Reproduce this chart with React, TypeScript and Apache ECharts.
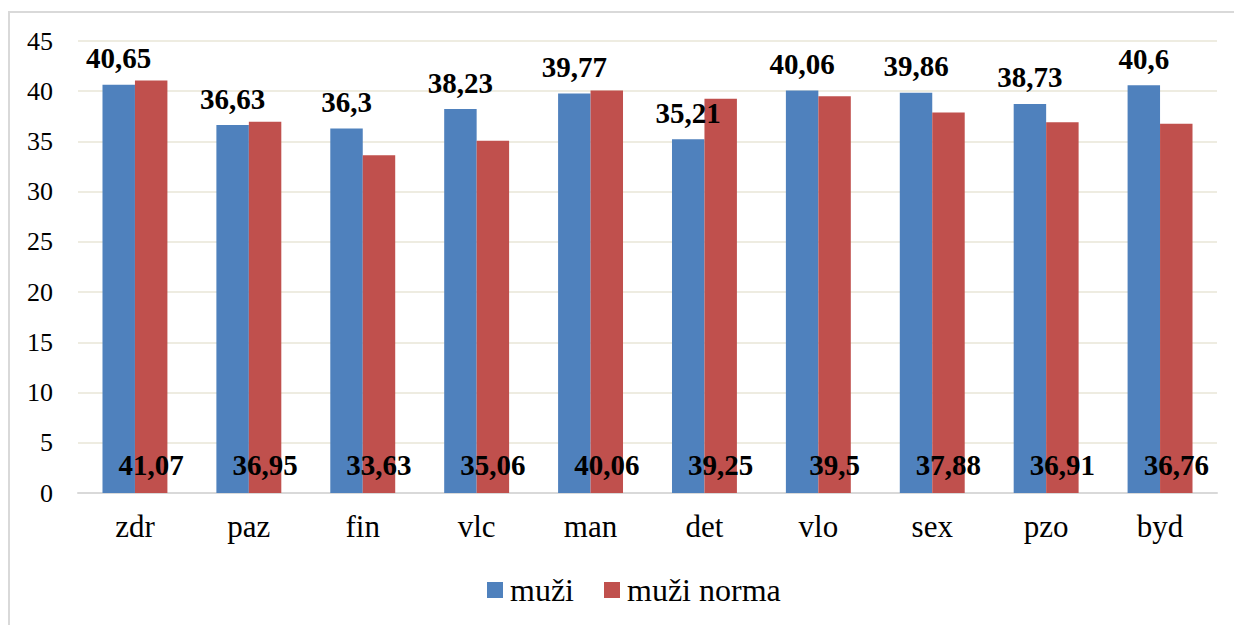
import React, { useEffect, useRef } from "react";
import * as echarts from "echarts";

const categories = ["zdr", "paz", "fin", "vlc", "man", "det", "vlo", "sex", "pzo", "byd"];
const muzi = [40.65, 36.63, 36.3, 38.23, 39.77, 35.21, 40.06, 39.86, 38.73, 40.6];
const muziNorma = [41.07, 36.95, 33.63, 35.06, 40.06, 39.25, 39.5, 37.88, 36.91, 36.76];
const seriesNames = ["muži", "muži norma"];

const FONT = "Liberation Serif";
const fmt = (p: any) => String(p.value).replace(".", ",");

export default function App() {
  const ref = useRef<HTMLDivElement>(null);
  useEffect(() => {
    const chart = echarts.init(ref.current!, null, { renderer: "svg" });
    chart.setOption({
      animation: false,
      backgroundColor: "#ffffff",
      textStyle: { fontFamily: FONT, color: "#000" },
      graphic: [
        {
          type: "rect",
          shape: { x: 9, y: 12, width: 1250, height: 640 },
          style: { fill: "none", stroke: "#D9D9D9", lineWidth: 2 },
          silent: true,
        },
      ],
      grid: { left: 78, right: 17, top: 41, bottom: 132, containLabel: false },
      legend: {
        data: seriesNames,
        bottom: 19,
        left: 487,
        padding: 0,
        itemWidth: 16,
        itemHeight: 16,
        itemGap: 30,
        icon: "rect",
        textStyle: { fontFamily: FONT, fontSize: 32, color: "#000", padding: [0, 0, 0, 2] },
      },
      xAxis: {
        type: "category",
        data: categories,
        axisTick: { show: false },
        axisLine: { lineStyle: { color: "#D9D9D9", width: 2 } },
        axisLabel: { fontFamily: FONT, fontSize: 31, color: "#000", margin: 18 },
      },
      yAxis: {
        type: "value",
        min: 0,
        max: 45,
        interval: 5,
        axisLine: { show: false },
        axisTick: { show: false },
        splitLine: { lineStyle: { color: "#EEECE1", width: 2 } },
        axisLabel: { fontFamily: FONT, fontSize: 26, color: "#000", margin: 25 },
      },
      series: [
        {
          name: seriesNames[0],
          type: "bar",
          data: muzi,
          barGap: "0%",
          barCategoryGap: "43%",
          itemStyle: { color: "#4F81BD" },
          label: {
            show: true,
            position: "top",
            distance: 12,
            formatter: fmt,
            fontFamily: FONT,
            fontSize: 29,
            fontWeight: "bold",
            color: "#000",
          },
        },
        {
          name: seriesNames[1],
          type: "bar",
          data: muziNorma,
          barGap: "0%",
          barCategoryGap: "43%",
          itemStyle: { color: "#C0504D" },
          label: {
            show: true,
            position: "insideBottom",
            distance: 14,
            formatter: fmt,
            fontFamily: FONT,
            fontSize: 29,
            fontWeight: "bold",
            color: "#000",
          },
        },
      ],
    });
    return () => chart.dispose();
  }, []);
  return (
    <div
      ref={ref}
      style={{ position: "absolute", left: 0, top: 0, width: 1234, height: 625 }}
    />
  );
}
